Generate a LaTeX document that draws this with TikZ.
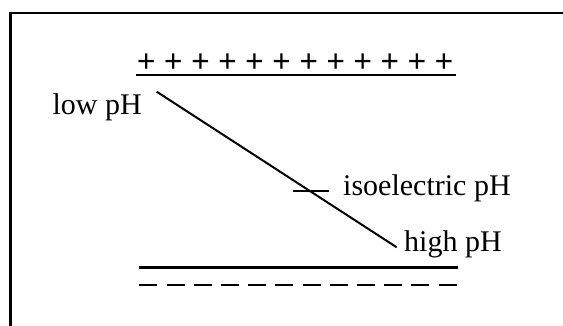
\documentclass[tikz,border=0pt]{standalone}
\usepackage{fontspec}
\setmainfont{Liberation Serif}
\begin{document}
\begin{tikzpicture}[x=1pt,y=-1pt,
  lbl/.style={inner sep=0pt,font=\fontsize{30}{30}\selectfont},
  chg/.style={inner sep=0pt,font=\fontsize{33}{33}\selectfont\bfseries},
  rule/.style={line width=2.6pt},
  thin/.style={line width=2pt}]
\useasboundingbox (0,0) rectangle (563,325);
\fill[white] (0,0) rectangle (563,325);
% frame (extends beyond the picture)
\draw[line width=2.8pt] (10.5,340) -- (10.5,13) -- (580,13);
% plus charges
\foreach \k in {0,...,11}{
  \node[chg] (p\k) at ({146.3+27.06*\k},62.7) {+};
}
\coordinate (u1) at (136,75);
\coordinate (u2) at (456,75);
\draw[rule] (u1) -- (u2);
% labels
\node[lbl,anchor=base east] (low) at (142,114) {low pH};
\node[lbl,anchor=base west] (iso) at (343,195) {isoelectric pH};
\node[lbl,anchor=base west] (high) at (404,251.7) {high pH};
% gradient line
\coordinate (a) at (156.7,91.7);
\coordinate (b) at (396.7,247.3);
\draw[thin] (a) -- (b);
\coordinate (t1) at (292.7,190.7);
\coordinate (t2) at (329.3,190.7);
\draw[thin] (t1) -- (t2);
% lower plate
\coordinate (l1) at (139,267.7);
\coordinate (l2) at (458,267.7);
\draw[rule] (l1) -- (l2);
\coordinate (m1) at (139.3,285);
\coordinate (m2) at (457.3,285);
\draw[rule,dash pattern=on 18pt off 9.2pt] (m1) -- (m2);
\end{tikzpicture}
\end{document}
